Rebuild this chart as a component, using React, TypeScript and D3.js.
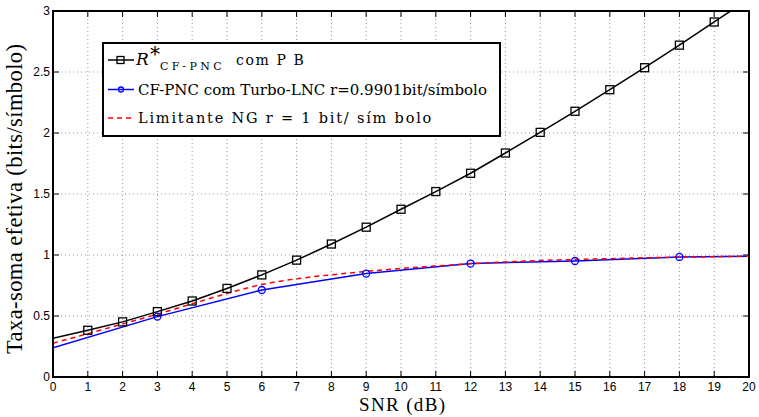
import React from "react";
import * as d3 from "d3";

// SNR (dB) points
const snrBlack = [0, 1, 2, 3, 4, 5, 6, 7, 8, 9, 10, 11, 12, 13, 14, 15, 16, 17, 18, 19, 20];
const rateBlack = [0.318, 0.383, 0.452, 0.536, 0.623, 0.726, 0.837, 0.958, 1.09, 1.228, 1.375, 1.52, 1.67, 1.836, 2.005, 2.178, 2.355, 2.535, 2.72, 2.91, 3.1];

const snrBlue = [0, 3, 6, 9, 12, 15, 18, 20];
const rateBlue = [0.24, 0.495, 0.713, 0.848, 0.93, 0.951, 0.984, 0.99];

const snrRed = [0, 1, 2, 3, 4, 5, 6, 7, 8, 9, 10, 11, 12, 13, 14, 15, 16, 17, 18, 19, 20];
const rateRed = [0.277, 0.355, 0.435, 0.515, 0.6, 0.685, 0.758, 0.805, 0.838, 0.865, 0.89, 0.91, 0.928, 0.943, 0.955, 0.963, 0.97, 0.977, 0.982, 0.986, 0.99];

const xTicks = d3.range(0, 21);
const yTicks = [0, 0.5, 1, 1.5, 2, 2.5, 3];

const W = 759, H = 417;
const left = 53, right = 749, top = 11, bottom = 377;

export default function App() {
  const x = d3.scaleLinear().domain([0, 20]).range([left, right]);
  const y = d3.scaleLinear().domain([0, 3]).range([bottom, top]);
  const line = d3.line<[number, number]>().x((d) => x(d[0])).y((d) => y(d[1]));
  const smooth = d3.line<[number, number]>().x((d) => x(d[0])).y((d) => y(d[1])).curve(d3.curveMonotoneX);

  const black = snrBlack.map((s, i) => [s, rateBlack[i]] as [number, number]);
  const blue = snrBlue.map((s, i) => [s, rateBlue[i]] as [number, number]);
  const red = snrRed.map((s, i) => [s, rateRed[i]] as [number, number]);

  const tickFont = "'Liberation Sans', Arial, sans-serif";
  const serif = "'DejaVu Serif', serif";
  const times = "'Liberation Serif', 'Times New Roman', serif";

  return (
    <svg width={W} height={H} style={{ position: "absolute", left: 0, top: 0, background: "#fff" }}>
      <defs>
        <clipPath id="plot">
          <rect x={left} y={top} width={right - left} height={bottom - top} />
        </clipPath>
      </defs>
      <rect width={W} height={H} fill="#fff" />
      {/* grid */}
      <g stroke="#999" strokeWidth={1} strokeDasharray="1,3">
        {xTicks.slice(1, -1).map((t) => (
          <line key={"gx" + t} x1={x(t)} x2={x(t)} y1={top} y2={bottom} />
        ))}
        {yTicks.slice(1, -1).map((t) => (
          <line key={"gy" + t} x1={left} x2={right} y1={y(t)} y2={y(t)} />
        ))}
      </g>
      {/* ticks */}
      <g stroke="#000" strokeWidth={1}>
        {xTicks.map((t) => (
          <g key={"tx" + t}>
            <line x1={x(t)} x2={x(t)} y1={bottom} y2={bottom - 6} />
            <line x1={x(t)} x2={x(t)} y1={top} y2={top + 6} />
          </g>
        ))}
        {yTicks.map((t) => (
          <g key={"ty" + t}>
            <line x1={left} x2={left + 6} y1={y(t)} y2={y(t)} />
            <line x1={right} x2={right - 6} y1={y(t)} y2={y(t)} />
          </g>
        ))}
      </g>
      {/* series */}
      <g clipPath="url(#plot)">
        <path d={line(black) || ""} fill="none" stroke="#000" strokeWidth={1.5} />
        <path d={line(blue) || ""} fill="none" stroke="#0000ff" strokeWidth={1.5} />
        <path d={smooth(red) || ""} fill="none" stroke="#ff0000" strokeWidth={1.5} strokeDasharray="5,4" />
        {black.slice(1, 20).map((d, i) => (
          <rect key={"m" + i} x={x(d[0]) - 4} y={y(d[1]) - 4} width={8} height={8} fill="none" stroke="#000" strokeWidth={1.3} />
        ))}
        {blue.slice(1, 7).map((d, i) => (
          <circle key={"c" + i} cx={x(d[0])} cy={y(d[1])} r={3.5} fill="none" stroke="#0000ff" strokeWidth={1.3} />
        ))}
      </g>
      {/* frame */}
      <rect x={left} y={top} width={right - left} height={bottom - top} fill="none" stroke="#000" strokeWidth={2} />
      {/* tick labels */}
      <g fontFamily={tickFont} fontSize={12} fill="#000">
        {xTicks.map((t) => (
          <text key={"lx" + t} x={x(t)} y={bottom + 14} textAnchor="middle">{t}</text>
        ))}
        {yTicks.map((t) => (
          <text key={"ly" + t} x={left - 3} y={y(t) + 4} textAnchor="end">{t}</text>
        ))}
      </g>
      {/* axis labels */}
      <text x={402} y={411} textAnchor="middle" fontFamily={times} fontSize={19} textLength={86} lengthAdjust="spacing">SNR (dB)</text>
      <text transform="translate(22, 199) rotate(-90)" textAnchor="middle" fontFamily={times} fontSize={22.5} textLength={310} lengthAdjust="spacing">Taxa-soma efetiva (bits/símbolo)</text>
      {/* legend */}
      <g>
        <rect x={103} y={43} width={397} height={93} fill="#fff" stroke="#000" strokeWidth={2} />
        <line x1={108} x2={134} y1={60} y2={60} stroke="#000" strokeWidth={1.5} />
        <rect x={117} y={56.5} width={7} height={7} fill="none" stroke="#000" strokeWidth={1.3} />
        <text x={136} y={64.5} fontFamily={serif} fontSize={17} fontStyle="italic">R</text>
        <text x={150} y={61} fontFamily={serif} fontSize={20}>*</text>
        <text x={160} y={70} fontFamily={serif} fontSize={11} letterSpacing={3.4}>CF-PNC</text>
        <text x={236} y={65} fontFamily={serif} fontSize={14} letterSpacing={1.6}>com P B</text>
        <line x1={108} x2={134} y1={89.5} y2={89.5} stroke="#0000ff" strokeWidth={1.5} />
        <circle cx={121} cy={89.5} r={2.5} fill="none" stroke="#0000ff" strokeWidth={1.3} />
        <text x={138} y={94.5} fontFamily={serif} fontSize={15}>CF-PNC com Turbo-LNC r=0.9901bit/símbolo</text>
        <line x1={108} x2={134} y1={118} y2={118} stroke="#ff0000" strokeWidth={1.5} strokeDasharray="5,4" />
        <text x={138} y={123} fontFamily={serif} fontSize={14.5} letterSpacing={1.8}>Limitante NG r = 1 bit/ sím bolo</text>
      </g>
    </svg>
  );
}
